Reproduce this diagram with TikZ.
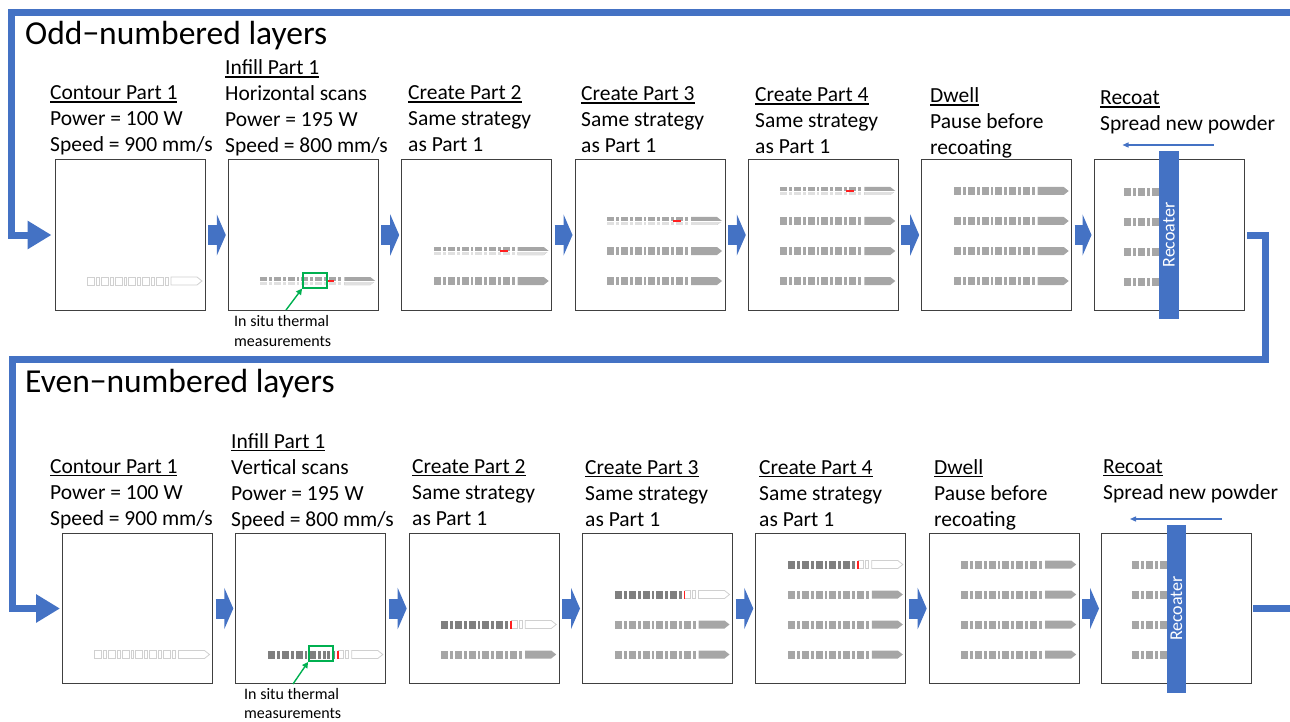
\documentclass[tikz,border=0pt]{standalone}
\usepackage{fontspec}
\setmainfont{Carlito}
\usetikzlibrary{arrows.meta,calc}

\definecolor{flowblue}{HTML}{4472C4}
\definecolor{scangray}{HTML}{A6A6A6}
\definecolor{scandark}{HTML}{7F7F7F}
\definecolor{contourgray}{HTML}{D0D0D0}
\definecolor{boxgray}{HTML}{404040}
\definecolor{probe}{HTML}{00B050}
\definecolor{laser}{HTML}{FF2020}

% underlined heading word
\newcommand\hd[1]{\setbox0\hbox{#1}\rlap{\rule[-2.8pt]{\wd0}{1.3pt}}\box0}

% one scan track: blocks and slits, ending in an arrow-shaped block
\newcommand\track[3]{%
  \foreach \a/\b in {0/7,9/12,14/21,23/26,28/35,37/39,41/48,50/53,55/62,64/67,69/76,78/81}
    \path[#3] (#1+\a,#2-4) rectangle (#1+\b,#2+4);
  \path[#3] (#1+84,#2-4) -- (#1+110,#2-4) -- (#1+115,#2) -- (#1+110,#2+4) -- (#1+84,#2+4) -- cycle;
}
% track being filled with horizontal hatch, laser spot in red
\newcommand\trackhz[2]{%
  \track{#1}{#2}{trackfill}
  \begin{scope}
    \clip (#1-2,#2+0.3) rectangle (#1+120,#2+5);
    \track{#1}{#2}{trackpale}
  \end{scope}
  \draw[white,line width=1pt] (#1-1,#2+0.3) -- (#1+116,#2+0.3);
  \draw[laser,line width=2pt] (#1+66,#2+0.3) -- (#1+74,#2+0.3);
}
% track being filled with vertical hatch, laser spot in red
\newcommand\trackvt[2]{%
  \begin{scope}
    \clip (#1-2,#2-6) rectangle (#1+70,#2+6);
    \track{#1}{#2}{trackdark}
  \end{scope}
  \begin{scope}
    \clip (#1+70,#2-6) rectangle (#1+120,#2+6);
    \track{#1}{#2}{trackline}
  \end{scope}
  \draw[laser,line width=1.6pt] (#1+70,#2-4) -- (#1+70,#2+4);
}
% stacked text lines of one step
\newcommand\steplabel[4]{%
  \foreach \t [count=\k from 0] in {#4}
    \node[lbl] (#1-\k) at (#2,#3+26*\k) {\t};
}

\begin{document}
\begin{tikzpicture}[x=1pt,y=-1pt,
  panel/.style={draw=boxgray,line width=1pt,minimum width=150pt,minimum height=150pt,inner sep=0pt},
  trackfill/.style={fill=scangray},
  trackpale/.style={fill=scangray!35},
  trackdark/.style={fill=scandark},
  trackline/.style={draw=contourgray,line width=0.8pt},
  lbl/.style={anchor=base west,inner sep=0pt,font=\fontsize{21.5}{26}\selectfont},
  title/.style={anchor=base west,inner sep=0pt,font=\fontsize{33.5}{40}\selectfont},
  note/.style={anchor=base west,inner sep=0pt,font=\fontsize{16}{20}\selectfont},
  stepper/.style={draw=flowblue,line width=20pt,-{Triangle[length=9pt,width=41pt]}},
  flow/.style={draw=flowblue,line width=7pt,line join=miter},
  flowhead/.style={flow,-{Triangle[length=24pt,width=27pt]}},
  recoater/.style={fill=flowblue,text=white,rotate=90,minimum width=168pt,minimum height=19.5pt,inner sep=0pt,font=\fontsize{18}{20}\selectfont},
  pushdir/.style={draw=flowblue,line width=1.3pt,-{Triangle[length=6pt,width=5pt]}},
  probebox/.style={draw=probe,line width=1.8pt,minimum width=24pt,minimum height=15pt,inner sep=0pt},
  probearrow/.style={draw=probe,line width=1.4pt,-{Triangle[length=6pt,width=6pt]}}]
\useasboundingbox (0,0) rectangle (1290,722);

% ---------------- odd-numbered layers ----------------
\node[title] (oddtitle) at (25,45) {Odd−numbered layers};

\foreach \i/\cx in {1/130,2/303.3,3/476.7,4/650,5/823.3,6/996.7,7/1169}
  \node[panel] (o\i) at (\cx,235) {};

\steplabel{oa}{50}{100}{\hd{Contour Part 1},Power = 100 W,{Speed = 900 mm/s}}
\steplabel{ob}{225}{75}{\hd{Infill Part 1},Horizontal scans,Power = 195 W,{Speed = 800 mm/s}}
\steplabel{oc}{408}{100}{\hd{Create Part 2},Same strategy,as Part 1}
\steplabel{od}{581}{101}{\hd{Create Part 3},Same strategy,as Part 1}
\steplabel{oe}{755}{102}{\hd{Create Part 4},Same strategy,as Part 1}
\steplabel{of}{930}{103}{\hd{Dwell},Pause before,recoating}
\steplabel{og}{1100}{105}{\hd{Recoat},Spread new powder}

% scan tracks
\track{87}{281}{trackline}
\trackhz{260.3}{281}
\trackhz{433.7}{251} \track{433.7}{281}{trackfill}
\trackhz{607}{221} \track{607}{251}{trackfill} \track{607}{281}{trackfill}
\trackhz{780.3}{191} \track{780.3}{221}{trackfill} \track{780.3}{251}{trackfill} \track{780.3}{281}{trackfill}
\foreach \ty in {191,221,251,281} \track{953.7}{\ty}{trackfill};
\begin{scope}
  \clip (1090,160) rectangle (1160,310);
  \foreach \ty in {192,222,252,282} \track{1124}{\ty}{trackfill};
\end{scope}

% thermal measurement window
\node[probebox] (g1) at (315,280.2) {};
\node[note] (n1a) at (234,326) {In situ thermal};
\node[note] (n1b) at (234,346) {measurements};
\coordinate (g1tail) at (286,310);
\draw[probearrow] (g1tail) -- (g1.south west);

% recoater
\node[recoater] (rc1) at (o7.center) {Recoater};
\draw[pushdir] ($(rc1.center)+(44.5,-90)$) -- ($(rc1.center)+(-46.5,-90)$);

% step arrows
\foreach \i/\j in {1/2,2/3,3/4,4/5,5/6,6/7}
  \draw[stepper] ([xshift=2.5pt]o\i.east) -- ([xshift=-2pt]o\j.west);

% ---------------- even-numbered layers ----------------
\node[title] (eventitle) at (25,392) {Even−numbered layers};

\foreach \i/\cx in {1/137.5,2/310.8,3/484.2,4/657.5,5/830.8,6/1004.2,7/1176.5}
  \node[panel] (e\i) at (\cx,608.5) {};

\steplabel{ea}{50}{473}{\hd{Contour Part 1},Power = 100 W,{Speed = 900 mm/s}}
\steplabel{eb}{231}{448}{\hd{Infill Part 1},Vertical scans,Power = 195 W,{Speed = 800 mm/s}}
\steplabel{ec}{412}{473}{\hd{Create Part 2},Same strategy,as Part 1}
\steplabel{ed}{585}{474}{\hd{Create Part 3},Same strategy,as Part 1}
\steplabel{ee}{759}{474}{\hd{Create Part 4},Same strategy,as Part 1}
\steplabel{ef}{934}{474}{\hd{Dwell},Pause before,recoating}
\steplabel{eg}{1103}{473}{\hd{Recoat},Spread new powder}

% scan tracks
\track{94.5}{654.5}{trackline}
\trackvt{267.8}{654.5}
\trackvt{441.2}{624.5} \track{441.2}{654.5}{trackfill}
\trackvt{614.5}{594.5} \track{614.5}{624.5}{trackfill} \track{614.5}{654.5}{trackfill}
\trackvt{787.8}{564.5} \track{787.8}{594.5}{trackfill} \track{787.8}{624.5}{trackfill} \track{787.8}{654.5}{trackfill}
\foreach \ty in {564.5,594.5,624.5,654.5} \track{961.2}{\ty}{trackfill};
\begin{scope}
  \clip (1100,530) rectangle (1167,685);
  \foreach \ty in {565,595,625,655} \track{1131.5}{\ty}{trackfill};
\end{scope}

% thermal measurement window
\foreach \vx in {316.7,321.7,326.7}
  \draw[white,line width=1.2pt] (\vx,650.5) -- (\vx,658.5);
\node[probebox] (g2) at (321,653.5) {};
\node[note] (n2a) at (244,699) {In situ thermal};
\node[note] (n2b) at (244,718) {measurements};
\coordinate (g2tail) at (293,684);
\draw[probearrow] (g2tail) -- (g2.south west);

% recoater
\node[recoater] (rc2) at (e7.center) {Recoater};
\draw[pushdir] ($(rc2.center)+(45.5,-89.5)$) -- ($(rc2.center)+(-46.5,-89.5)$);

% step arrows
\foreach \i/\j in {1/2,2/3,3/4,4/5,5/6,6/7}
  \draw[stepper] ([xshift=2.5pt]e\i.east) -- ([xshift=-2pt]e\j.west);

% ---------------- layer cycle ----------------
\coordinate (cyclein) at (1296,13);
\coordinate (cycleout) at (1296,608.5);
\draw[flowhead] (cyclein) -| ($(o1.west)+(-43,0)$) -- ([xshift=-3pt]o1.west);
\draw[flowhead] ([xshift=2.5pt]o7.east) -- ++(18,0) |- (12,359) |- ([xshift=-2pt]e1.west);
\draw[flow] ([xshift=1pt]e7.east) -- (cycleout);
\end{tikzpicture}
\end{document}
